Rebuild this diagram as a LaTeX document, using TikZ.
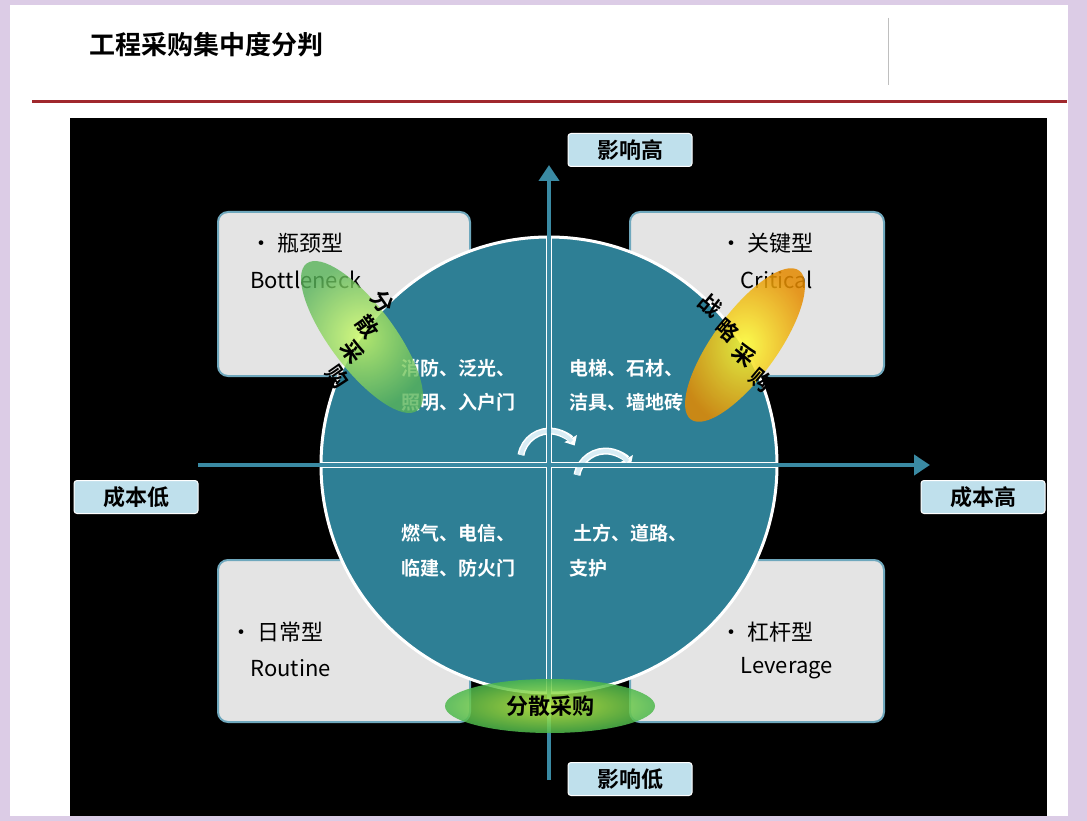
\documentclass[tikz,border=0pt]{standalone}
\usepackage{fontspec}
\setmainfont{Noto Sans CJK SC}[BoldFont={Noto Sans CJK SC Bold}]
\usetikzlibrary{arrows.meta}
\definecolor{teal1}{HTML}{2E7F95}
\definecolor{axisc}{HTML}{3A8AA3}
\definecolor{lbl}{HTML}{BFE0EC}
\definecolor{boxg}{HTML}{E4E4E4}
\definecolor{boxb}{HTML}{6FA8BD}
\definecolor{lav}{HTML}{DCCCE6}
\definecolor{dred}{HTML}{A0282D}
\tikzset{
 axlbl/.style={draw=white,line width=1pt,fill=lbl,rounded corners=3pt,minimum width=124pt,minimum height=33pt,font=\fontsize{22}{24}\selectfont\bfseries,inner sep=0pt},
 quad/.style={draw=boxb,line width=2pt,fill=boxg,rounded corners=10pt},
 inner/.style={text=white,font=\fontsize{19}{22}\selectfont\bfseries,anchor=west},
 qt/.style={font=\fontsize{22}{24}\selectfont,anchor=west,text=black},
 ax/.style={draw=axisc,line width=4pt,-{Triangle[length=16pt,width=20pt]}},
 ech/.style={font=\fontsize{22}{24}\selectfont\bfseries}
}
\begin{document}
\begin{tikzpicture}[x=1pt,y=-1pt]
\useasboundingbox (0,0) rectangle (1087,821);
\fill[lav] (0,0) rectangle (1087,821);
\fill[white] (10,5) rectangle (1068,816);
\node[anchor=west,font=\fontsize{26}{28}\selectfont\bfseries] (title) at (86,45) {工程采购集中度分判};
\draw[gray!50,line width=1pt] (888,18) -- (888,85);
\draw[dred,line width=3pt] (32,102) -- (1067,102);
\fill[black] (70,118) rectangle (1047,816);
% quadrant boxes
\draw[quad] (218,212) rectangle (470,376);
\draw[quad] (630,212) rectangle (884,376);
\draw[quad] (218,560) rectangle (470,722);
\draw[quad] (630,560) rectangle (884,722);
\node[qt] (tl1) at (247,243) {• 瓶颈型};
\node[qt] (tl2) at (247,280) {Bottleneck};
\node[qt] (tr1) at (717,243) {• 关键型};
\node[qt] (tr2) at (737,280) {Critical};
\node[qt] (bl1) at (227,632) {• 日常型};
\node[qt] (bl2) at (247,668) {Routine};
\node[qt] (br1) at (717,632) {• 杠杆型};
\node[qt] (br2) at (737,668) {Leverage};
% circle
\fill[teal1,draw=white,line width=3pt] (549,465) circle (228);
\draw[white,line width=6pt] (322,465) -- (776,465);
\draw[gray!70,line width=3pt] (322,465) -- (776,465);
\draw[white,line width=6pt] (549,238) -- (549,692);
\draw[gray!70,line width=3pt] (549,238) -- (549,692);
% rotating arrows
\draw[white,line width=7pt,-{Triangle[length=8pt,width=14pt]}] (521,455) arc (190:330:29);
\draw[lbl!60,line width=4pt] (521,455) arc (190:320:29);
\draw[white,line width=7pt,-{Triangle[length=8pt,width=14pt]}] (577,475) arc (10:150:-29);
\draw[lbl!60,line width=4pt] (577,475) arc (10:140:-29);
% axes
\draw[ax] (549,780) -- (549,165);
\draw[ax] (198,465) -- (930,465);
\node[axlbl] (yh) at (630,150) {影响高};
\node[axlbl] (yl) at (630,779) {影响低};
\node[axlbl] (xl) at (136,497) {成本低};
\node[axlbl] (xh) at (983,497) {成本高};
% inner texts
\node[inner] (a1) at (398,368) {消防、泛光、};
\node[inner] (a2) at (398,402) {照明、入户门};
\node[inner] (b1) at (566,368) {电梯、石材、};
\node[inner] (b2) at (566,402) {洁具、墙地砖};
\node[inner] (c1) at (398,533) {燃气、电信、};
\node[inner] (c2) at (398,568) {临建、防火门};
\node[inner] (d1) at (570,533) {土方、道路、};
\node[inner] (d2) at (566,568) {支护};
% ellipses
\shade[inner color=green!25!yellow!70!white,outer color=green!60!black!70,opacity=0.85] (550,706) ellipse [x radius=105,y radius=27];
\node[ech] (eb) at (550,706) {分散采购};
\begin{scope}[shift={(362,337)},rotate=-53]
\shade[inner color=green!30!yellow!60!white,outer color=green!55!black!65,opacity=0.8] (0,0) ellipse [x radius=92,y radius=32];
\end{scope}
\foreach \c/\t in {0/分,1/散,2/采,3/购}{
 \node[ech,rotate=-55] (l\c) at ({383-15*\c},{302+25*\c}) {\t};}
\begin{scope}[shift={(745,345)},rotate=54]
\shade[inner color=yellow!80!white,outer color=orange!80!yellow!90!black,opacity=0.85] (0,0) ellipse [x radius=92,y radius=32];
\end{scope}
\foreach \c/\t in {0/战,1/略,2/采,3/购}{
 \node[ech,rotate=-40] (r\c) at ({710+17*\c},{305+25*\c}) {\t};}
\end{tikzpicture}
\end{document}
